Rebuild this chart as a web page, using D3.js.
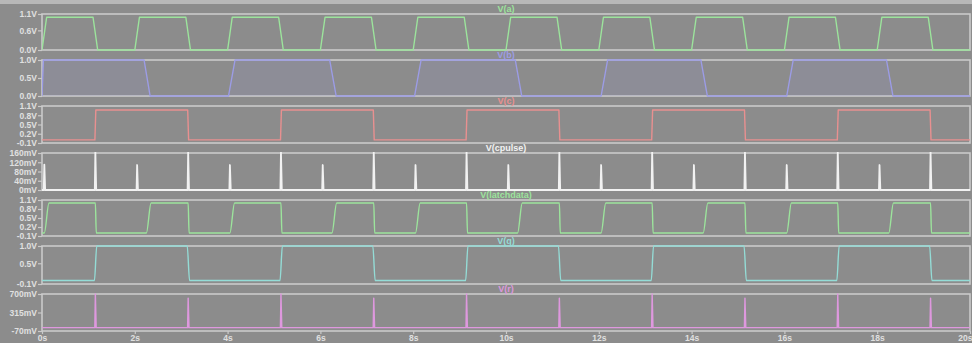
<!DOCTYPE html>
<html>
<head>
<meta charset="utf-8">
<script src="https://cdn.jsdelivr.net/npm/d3@7"></script>
<style>
html,body{margin:0;padding:0;background:#8c8c8c;}
svg{display:block;}
text{font-family:"Liberation Sans",Arial,sans-serif;font-weight:bold;}
</style>
</head>
<body>
<script>
// ---------- DATA ----------
const timeTicks = [0,2,4,6,8,10,12,14,16,18,20];
const timeTickLabels = ["0s","2s","4s","6s","8s","10s","12s","14s","16s","18s","20s"];

const traceNames = ["V(a)","V(b)","V(c)","V(cpulse)","V(latchdata)","V(q)","V(r)"];

// y-axis tick values and labels per pane
const aTicks = [1.1,0.6,0.0];            const aTickLabels = ["1.1V","0.6V","0.0V"];
const bTicks = [1.0,0.5,0.0];            const bTickLabels = ["1.0V","0.5V","0.0V"];
const cTicks = [1.1,0.8,0.5,0.2,-0.1];   const cTickLabels = ["1.1V","0.8V","0.5V","0.2V","-0.1V"];
const cpTicks = [160,120,80,40,0];       const cpTickLabels = ["160mV","120mV","80mV","40mV","0mV"];
const ldTicks = [1.1,0.8,0.5,0.2,-0.1];  const ldTickLabels = ["1.1V","0.8V","0.5V","0.2V","-0.1V"];
const qTicks = [1.0,0.5,-0.1];           const qTickLabels = ["1.0V","0.5V","-0.1V"];
const rTicks = [700,315,-70];            const rTickLabels = ["700mV","315mV","-70mV"];

// V(a): trapezoid clock (s, V)
const aT = [0,0.1,1.1,1.2, 2,2.1,3.1,3.2, 4,4.1,5.1,5.2, 6,6.1,7.1,7.2, 8,8.1,9.1,9.2,
            10,10.1,11.1,11.2, 12,12.1,13.1,13.2, 14,14.1,15.1,15.2, 16,16.1,17.1,17.2, 18,18.1,19.1,19.2, 20];
const aV = [0,1,1,0, 0,1,1,0, 0,1,1,0, 0,1,1,0, 0,1,1,0,
            0,1,1,0, 0,1,1,0, 0,1,1,0, 0,1,1,0, 0,1,1,0, 0];

// V(b)
const bT = [0,0.03,2.2,2.33, 4.02,4.16,6.2,6.34, 8.03,8.17,10.2,10.34, 12.05,12.19,14.2,14.34, 16.05,16.19,18.2,18.34, 20];
const bV = [0,1,1,0, 0,1,1,0, 0,1,1,0, 0,1,1,0, 0,1,1,0, 0];

// V(c)
const cT = [0,1.14,1.16,3.14,3.16,5.14,5.16,7.14,7.16,9.14,9.16,11.14,11.16,13.14,13.16,15.14,15.16,17.14,17.16,19.14,19.16,20];
const cV = [0,0,0.97,0.97,0,0,0.97,0.97,0,0,0.97,0.97,0,0,0.97,0.97,0,0,0.97,0.97,0,0];

// V(cpulse): spike times (s) and peaks (mV)
const cpT = [0.05,1.15,2.05,3.15,4.05,5.15,6.05,7.15,8.05,9.15,10.05,11.15,12.05,13.15,14.05,15.15,16.05,17.15,18.05,19.15];
const cpV = [110,165,108,165,108,165,108,165,108,165,108,165,108,165,108,165,108,165,108,165];

// V(latchdata)
const ldT = [0,0.05,0.15,1.15,1.17, 2.25,2.35,3.15,3.17, 4.05,4.15,5.15,5.17, 6.25,6.35,7.15,7.17,
             8.05,8.15,9.15,9.17, 10.25,10.35,11.15,11.17, 12.05,12.15,13.15,13.17, 14.25,14.35,15.15,15.17,
             16.05,16.15,17.15,17.17, 18.25,18.35,19.15,19.17, 20];
const ldV = [0,0,1,1,0, 0,1,1,0, 0,1,1,0, 0,1,1,0,
             0,1,1,0, 0,1,1,0, 0,1,1,0, 0,1,1,0,
             0,1,1,0, 0,1,1,0, 0];

// V(q)
const qT = [0,1.13,1.18,3.13,3.18,5.13,5.18,7.13,7.18,9.13,9.18,11.13,11.18,13.13,13.18,15.13,15.18,17.13,17.18,19.13,19.18,20];
const qV = [0,0,1,1,0,0,1,1,0,0,1,1,0,0,1,1,0,0,1,1,0,0];

// V(r): spike times (s) and peaks (mV)
const rT = [1.15,3.15,5.15,7.15,9.15,11.15,13.15,15.15,17.15,19.15];
const rV = [700,615,700,615,700,615,700,615,700,615];

// ---------- LAYOUT ----------
const W = 972, H = 343;
const xL = 42, xR = 970;
const panes = [
  {name:traceNames[0], top:14,  bot:50,  dom:[0,1.1],     ticks:aTicks,  labels:aTickLabels,  color:"#9ce49c"},
  {name:traceNames[1], top:60,  bot:96,  dom:[0,1.0],     ticks:bTicks,  labels:bTickLabels,  color:"#9c9ce6"},
  {name:traceNames[2], top:106, bot:143, dom:[-0.1,1.1],  ticks:cTicks,  labels:cTickLabels,  color:"#e89090"},
  {name:traceNames[3], top:153, bot:190, dom:[0,160],     ticks:cpTicks, labels:cpTickLabels, color:"#f2f2f2"},
  {name:traceNames[4], top:200, bot:236, dom:[-0.1,1.1],  ticks:ldTicks, labels:ldTickLabels, color:"#9ce49c"},
  {name:traceNames[5], top:246, bot:284, dom:[-0.1,1.0],  ticks:qTicks,  labels:qTickLabels,  color:"#94dcd6"},
  {name:traceNames[6], top:294, bot:331, dom:[-70,700],   ticks:rTicks,  labels:rTickLabels,  color:"#de98de"}
];

const svg = d3.select("body").append("svg").attr("width",W).attr("height",H);
svg.append("rect").attr("width",W).attr("height",H).attr("fill","#8c8c8c");
svg.append("rect").attr("width",W).attr("height",4).attr("fill","#b8b8b8");

const x = d3.scaleLinear().domain([0,20]).range([xL,xR]);

function zip(T,V){ return T.map((t,i)=>[t,V[i]]); }
function spikes(T,V){
  const pts=[[0,0]];
  T.forEach((t,i)=>{ pts.push([t-0.012,0],[t,V[i]],[t+0.018,0]); });
  pts.push([20,0]);
  return pts;
}
const seriesData = [
  {pts:zip(aT,aV), curve:d3.curveLinear},
  {pts:zip(bT,bV), curve:d3.curveLinear, fill:true},
  {pts:zip(cT,cV), curve:d3.curveLinear},
  {pts:spikes(cpT,cpV), curve:d3.curveLinear, w:1.8},
  {pts:zip(ldT,ldV), curve:d3.curveMonotoneX},
  {pts:zip(qT,qV), curve:d3.curveMonotoneX},
  {pts:spikes(rT,rV), curve:d3.curveLinear}
];

const frameColor = "#cacaca";
const textColor = "#e0e0e0";

panes.forEach((p,i)=>{
  const y = d3.scaleLinear().domain(p.dom).range([p.bot,p.top]);
  const g = svg.append("g");
  const cid = "clip"+i;
  svg.append("clipPath").attr("id",cid).append("rect")
    .attr("x",xL).attr("y",p.top-1).attr("width",xR-xL).attr("height",p.bot-p.top+2);

  // frame
  g.append("rect").attr("x",xL).attr("y",p.top).attr("width",xR-xL).attr("height",p.bot-p.top)
    .attr("fill","none").attr("stroke",frameColor).attr("stroke-width",1.6);

  // left axis
  const ax = d3.axisLeft(y).tickValues(p.ticks).tickFormat((d,k)=>p.labels[k]).tickSize(4).tickPadding(1);
  const axG = svg.append("g").attr("transform",`translate(${xL},0)`).call(ax);
  axG.select(".domain").remove();
  axG.selectAll("line").attr("stroke",frameColor).attr("stroke-width",1.2);
  axG.selectAll("text").attr("fill",textColor).style("font-size","8.5px").attr("dy","0.34em");

  // title
  svg.append("text").attr("x",(xL+xR)/2).attr("y",p.top-2).attr("text-anchor","middle")
    .attr("fill",p.color).style("font-size","9px").text(p.name);

  const s = seriesData[i];
  const tg = svg.append("g").attr("clip-path",`url(#${cid})`);
  if(s.fill){
    const area = d3.area().x(d=>x(d[0])).y0(p.bot).y1(d=>y(d[1])).curve(s.curve);
    tg.append("path").datum(s.pts).attr("d",area).attr("fill",p.color).attr("fill-opacity",0.13);
  }
  const line = d3.line().x(d=>x(d[0])).y(d=>y(d[1])).curve(s.curve);
  tg.append("path").datum(s.pts).attr("d",line).attr("fill","none")
    .attr("stroke",p.color).attr("stroke-width",s.w||1.4).attr("stroke-linejoin","round");
});

// bottom time axis
const lastBot = panes[panes.length-1].bot;
const xa = d3.axisBottom(x).tickValues(timeTicks).tickFormat((d,k)=>timeTickLabels[k]).tickSize(3).tickPadding(1);
const xg = svg.append("g").attr("transform",`translate(0,${lastBot})`).call(xa);
xg.select(".domain").remove();
xg.selectAll("line").attr("stroke",frameColor).attr("stroke-width",1.2);
xg.selectAll("text").attr("fill",textColor).style("font-size","8.5px");
// keep the last label inside the picture
xg.selectAll(".tick").filter(d=>d===20).select("text").attr("text-anchor","end").attr("dx","2px");
</script>
</body>
</html>
